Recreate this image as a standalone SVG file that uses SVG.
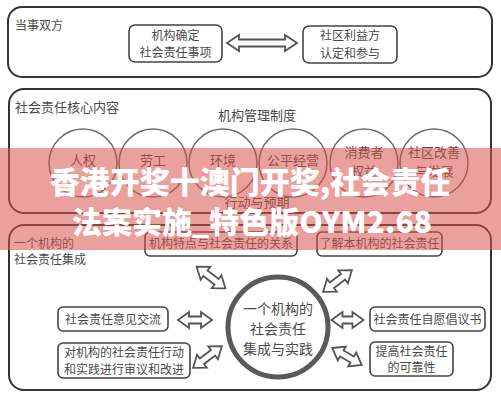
<svg xmlns="http://www.w3.org/2000/svg" width="501" height="400" viewBox="0 0 501 400">
<defs>
<style>
text{font-family:"Noto Sans CJK SC","Noto Sans",sans-serif;fill:#4a4a4a;font-size:12px}
.c{text-anchor:middle}
.panel{fill:none;stroke:#333;stroke-width:2}
.box{fill:#fff;stroke:#444;stroke-width:1.6}
.topic{fill:none;stroke:#6a6a6a;stroke-width:1.5}
.arr{fill:#fff;stroke:#555;stroke-width:1.8;stroke-linejoin:miter}
.t13{font-size:13px}
.t14{font-size:14px}
.ban{font-family:"Noto Sans CJK SC",sans-serif;font-weight:900;font-size:30px;fill:#fff;text-anchor:middle}
</style>
</defs>
<rect width="501" height="400" fill="#fff"/>

<g id="panel-parties">
<rect class="panel" x="8" y="7" width="484" height="70" rx="14"/>
<text x="15" y="30">当事双方</text>
</g>
<g id="node-org">
<rect class="box" x="129" y="25" width="93" height="37" rx="6"/>
<text class="c" x="175.5" y="40">机构确定</text>
<text class="c" x="175.5" y="57">社会责任事项</text>
</g>
<g id="node-community">
<rect class="box" x="303" y="26" width="94" height="37" rx="6"/>
<text class="c" x="350" y="40">社区利益方</text>
<text class="c" x="350" y="58">认定和参与</text>
</g>

<g id="panel-core">
<rect class="panel" x="9" y="89" width="482" height="124" rx="15"/>
<text x="15" y="112" class="t13">社会责任核心内容</text>
<text class="c t13" x="257" y="120">机构管理制度</text>
<text class="c t13" x="257" y="207">行动与预期</text>
</g>
<g id="topic-human-rights"><circle class="topic" cx="83" cy="163" r="34"/><text class="c t13" x="83" y="165">人权</text></g>
<g id="topic-labour"><circle class="topic" cx="153" cy="163" r="34"/><text class="c t13" x="153" y="165">劳工</text></g>
<g id="topic-environment"><circle class="topic" cx="223" cy="163" r="34"/><text class="c t13" x="223" y="165">环境</text></g>
<g id="topic-fair"><circle class="topic" cx="293" cy="163" r="34"/><text class="c t13" x="293" y="165">公平经营</text></g>
<g id="topic-consumer"><circle class="topic" cx="364" cy="163" r="34"/><text class="c t13" x="364" y="157">消费者</text><text class="c t13" x="364" y="176">权益</text></g>
<g id="topic-community"><circle class="topic" cx="434" cy="163" r="34"/><text class="c t13" x="434" y="157">社区改善</text><text class="c t13" x="434" y="176">与发展</text></g>

<g id="panel-integration">
<rect class="panel" x="9" y="225" width="482" height="165" rx="15"/>
<text x="14" y="248">一个机构的</text>
<text x="14" y="264">社会责任集成</text>
</g>
<g id="node-center">
<circle cx="278" cy="327" r="50" fill="#fff" stroke="#5a5a5a" stroke-width="5"/>
<text class="c t14" x="278" y="314">一个机构的</text>
<text class="c t14" x="278" y="334">社会责任</text>
<text class="c t14" x="278" y="354">集成与实践</text>
</g>
<g id="node-relation">
<rect class="box" x="145" y="232" width="152" height="24" rx="5"/>
<text class="c" x="221" y="248">机构特点与社会责任的关系</text>
</g>
<g id="node-understand">
<rect class="box" x="317" y="232" width="125" height="24" rx="5"/>
<text class="c" x="379.5" y="248">了解本机构的社会责任</text>
</g>
<g id="node-exchange">
<rect class="box" x="58" y="307" width="110" height="24" rx="5"/>
<text class="c" x="113" y="324">社会责任意见交流</text>
</g>
<g id="node-review">
<rect class="box" x="58" y="343" width="132" height="35" rx="5"/>
<text class="c" x="124" y="357">对机构的社会责任行动</text>
<text class="c" x="124" y="374">和实践进行审议和改进</text>
</g>
<g id="node-initiative">
<rect class="box" x="370" y="307" width="115" height="24" rx="5"/>
<text class="c" x="427.5" y="324">社会责任自愿倡议书</text>
</g>
<g id="node-credibility">
<rect class="box" x="370" y="342" width="83" height="34" rx="5"/>
<text class="c" x="411.5" y="356">提高社会责任</text>
<text class="c" x="411.5" y="372">的可靠性</text>
</g>

<g id="connectors">
<polygon class="arr" transform="translate(262,43)" points="-35,0 -23,-8 -23,-3.5 23,-3.5 23,-8 35,0 23,8 23,3.5 -23,3.5 -23,8"/>
<polygon class="arr" transform="translate(211,277.5) rotate(37)" points="-18,0 -7,-8 -7,-3.5 7,-3.5 7,-8 18,0 7,8 7,3.5 -7,3.5 -7,8"/>
<polygon class="arr" transform="translate(337.5,281) rotate(-37)" points="-18,0 -7,-8 -7,-3.5 7,-3.5 7,-8 18,0 7,8 7,3.5 -7,3.5 -7,8"/>
<polygon class="arr" transform="translate(195,320)" points="-17,0 -6,-8 -6,-3.5 6,-3.5 6,-8 17,0 6,8 6,3.5 -6,3.5 -6,8"/>
<polygon class="arr" transform="translate(347.5,320)" points="-16,0 -5,-8 -5,-3.5 5,-3.5 5,-8 16,0 5,8 5,3.5 -5,3.5 -5,8"/>
<polygon class="arr" transform="translate(207.5,357) rotate(-37)" points="-18,0 -7,-8 -7,-3.5 7,-3.5 7,-8 18,0 7,8 7,3.5 -7,3.5 -7,8"/>
<polygon class="arr" transform="translate(347,356.5) rotate(30)" points="-17,0 -6,-8 -6,-3.5 6,-3.5 6,-8 17,0 6,8 6,3.5 -6,3.5 -6,8"/>
</g>

<g id="banner">
<rect x="0" y="148" width="501" height="102" fill="#d9534f" fill-opacity="0.55"/>
<text class="ban" x="250" y="193">香港开奖十澳门开奖,社会责任</text>
<text class="ban" x="252" y="233">法案实施_特色版OYM2.68</text>
</g>
</svg>
